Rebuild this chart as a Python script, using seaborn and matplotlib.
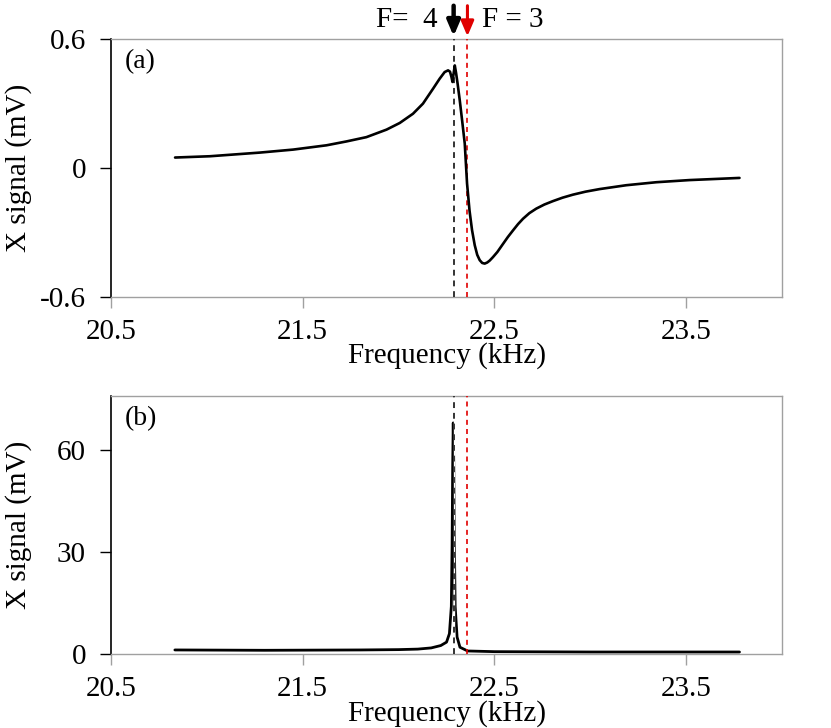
import numpy as np
import pandas as pd
import seaborn as sns
import matplotlib
matplotlib.use("Agg")
import matplotlib.pyplot as plt

# ---- data ----
freq_a = [20.834, 21.016, 21.276, 21.45, 21.624, 21.728, 21.832, 21.937, 22.006, 22.075,
          22.127, 22.18, 22.214, 22.240, 22.258, 22.268, 22.276, 22.281, 22.287, 22.293,
          22.30, 22.308, 22.319, 22.332, 22.345, 22.357, 22.370, 22.383, 22.397, 22.41,
          22.423, 22.436, 22.449, 22.462, 22.475, 22.492, 22.515, 22.544, 22.570, 22.597,
          22.623, 22.649, 22.682, 22.718, 22.76, 22.805, 22.855, 22.909, 22.975, 23.048,
          23.187, 23.344, 23.517, 23.778]
sig_a = [0.048, 0.054, 0.071, 0.085, 0.105, 0.123, 0.143, 0.178, 0.209, 0.252,
         0.299, 0.369, 0.415, 0.446, 0.454, 0.448, 0.422, 0.400, 0.440, 0.477,
         0.440, 0.390, 0.314, 0.215, 0.113, -0.073, -0.200, -0.290, -0.360, -0.405,
         -0.430, -0.443, -0.446, -0.441, -0.432, -0.416, -0.392, -0.355, -0.322, -0.291,
         -0.262, -0.237, -0.211, -0.190, -0.171, -0.155, -0.139, -0.125, -0.111, -0.099,
         -0.081, -0.067, -0.057, -0.047]

freq_b = [20.833, 21.3, 21.8, 22.0, 22.1, 22.17, 22.22, 22.25, 22.265, 22.275, 22.279,
          22.282, 22.285, 22.288, 22.291, 22.295, 22.305, 22.32, 22.36, 22.5, 23.0,
          23.5, 23.778]
sig_b = [1.2, 1.1, 1.2, 1.3, 1.45, 1.8, 2.5, 3.5, 6.0, 14.0, 32.0,
         55.0, 68.0, 55.0, 32.0, 14.0, 5.0, 2.0, 0.9, 0.7, 0.6,
         0.6, 0.6]

f_F4 = 22.287
f_F3 = 22.359
xticks = [20.5, 21.5, 22.5, 23.5]
yticks_a = [-0.6, 0, 0.6]
yticks_b = [0, 30, 60]
ytick_labels_a = ["-0.6", "0", "0.6"]
ytick_labels_b = ["0", "30", "60"]

df_a = pd.DataFrame({"freq": freq_a, "sig": sig_a})
df_b = pd.DataFrame({"freq": freq_b, "sig": sig_b})

sns.set_theme(style="white")
plt.rcParams["font.family"] = ["Liberation Serif", "DejaVu Serif"]
plt.rcParams["text.color"] = "black"
plt.rcParams["axes.labelcolor"] = "black"
plt.rcParams["xtick.color"] = "black"
plt.rcParams["ytick.color"] = "black"

fig = plt.figure(figsize=(8.31, 7.28), dpi=100)
ax_a = fig.add_axes([0.1336, 0.5925, 0.8075, 0.3539])
ax_b = fig.add_axes([0.1336, 0.1016, 0.8075, 0.3549])

FS = 21
GRAY = "#a0a0a0"

def style(ax, yt, ytl, ylim):
    ax.set_xlim(20.5, 24.0)
    ax.set_ylim(*ylim)
    ax.set_xticks(xticks)
    ax.set_xticklabels([f"{t:.1f}" for t in xticks])
    ax.set_yticks(yt)
    ax.set_yticklabels(ytl)
    for s in ["top", "right", "bottom"]:
        ax.spines[s].set_color(GRAY)
        ax.spines[s].set_linewidth(1.0)
    ax.spines["left"].set_color("black")
    ax.spines["left"].set_linewidth(1.2)
    ax.tick_params(axis="x", direction="out", length=8, width=1, color=GRAY,
                   labelcolor="black", labelsize=FS, pad=8, bottom=True)
    ax.tick_params(axis="y", direction="out", length=8, width=1, color="black",
                   labelcolor="black", labelsize=FS, pad=10, left=True)
    ax.set_xlabel("Frequency (kHz)", fontsize=FS, color="black")
    ax.set_ylabel("X signal (mV)", fontsize=FS, color="black")
    ax.yaxis.set_label_coords(-0.118, 0.5)
    ax.xaxis.set_label_coords(0.5, -0.178)

# panel (a)
ax_a.axvline(f_F4, color="#333333", lw=1.4, ls=(0, (3, 2.5)), zorder=3)
ax_a.axvline(f_F3, color="#e00000", lw=1.2, ls=(0, (3, 2.5)), zorder=3)
sns.lineplot(data=df_a, x="freq", y="sig", ax=ax_a, color="black", lw=1.9, zorder=4)
style(ax_a, yticks_a, ytick_labels_a, (-0.6, 0.6))
ax_a.text(0.02, 0.96, "(a)", transform=ax_a.transAxes, fontsize=20, va="top", ha="left")

# arrows and labels above panel (a)
ax_a.annotate("", xy=(f_F4, 1.0), xycoords=("data", "axes fraction"),
              xytext=(f_F4, 1.14), textcoords=("data", "axes fraction"),
              arrowprops=dict(arrowstyle="-|>,head_length=0.75,head_width=0.32",
                              color="black", lw=3.2), annotation_clip=False)
ax_a.annotate("", xy=(f_F3, 1.0), xycoords=("data", "axes fraction"),
              xytext=(f_F3, 1.14), textcoords=("data", "axes fraction"),
              arrowprops=dict(arrowstyle="-|>,head_length=0.75,head_width=0.32",
                              color="#e00000", lw=2.2), annotation_clip=False)
ax_a.text(22.204, 1.072, "F=  4", transform=ax_a.get_xaxis_transform(),
          fontsize=FS, ha="right", va="center")
ax_a.text(22.433, 1.072, "F = 3", transform=ax_a.get_xaxis_transform(),
          fontsize=FS, ha="left", va="center")

# panel (b)
sns.lineplot(data=df_b, x="freq", y="sig", ax=ax_b, color="black", lw=2.0, zorder=3)
ax_b.axvline(f_F4, color="white", lw=1.0, zorder=4)
ax_b.axvline(f_F4, color="#333333", lw=1.4, ls=(0, (3, 2.5)), zorder=5)
ax_b.axvline(f_F3, color="#e00000", lw=1.2, ls=(0, (3, 2.5)), zorder=5)
style(ax_b, yticks_b, ytick_labels_b, (0, 76))
ax_b.text(0.02, 0.96, "(b)", transform=ax_b.transAxes, fontsize=20, va="top", ha="left")

fig.savefig("out.png", dpi=100, facecolor="white")
